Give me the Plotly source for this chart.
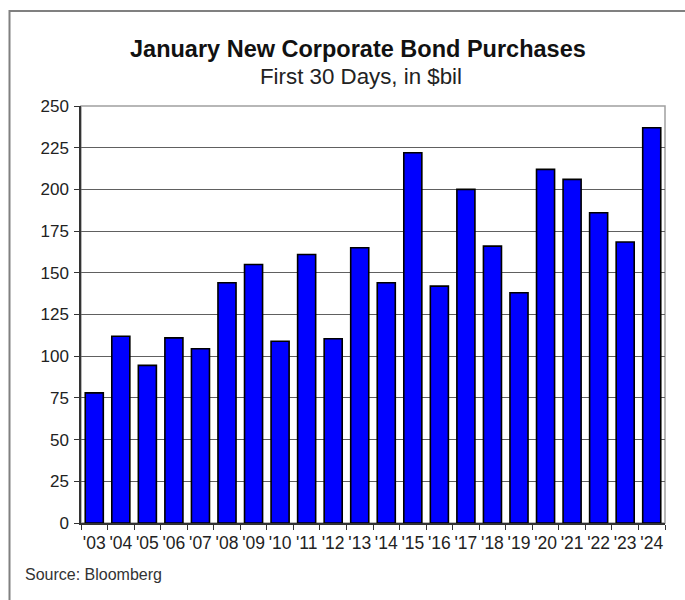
import plotly.graph_objects as go

years = ["'03", "'04", "'05", "'06", "'07", "'08", "'09", "'10", "'11", "'12", "'13",
         "'14", "'15", "'16", "'17", "'18", "'19", "'20", "'21", "'22", "'23", "'24"]
purchases = [78, 112, 94.5, 111, 104.5, 144, 155, 109, 161, 110.5, 165,
             144, 222, 142, 200, 166, 138, 212, 206, 186, 168.5, 237]
y_ticks = [0, 25, 50, 75, 100, 125, 150, 175, 200, 225, 250]

title_text = "January New Corporate Bond Purchases"
subtitle_text = "First 30 Days, in $bil"
source_text = "Source: Bloomberg"

W, H = 685, 600
L, R, T, B = 81, 665, 106, 523  # plot area in px


def px_x(x):
    return (x - L) / (R - L)


def px_y(y):
    return (B - y) / (B - T)


FONT = "Liberation Sans, Arial, sans-serif"

fig = go.Figure()
fig.add_trace(go.Bar(
    x=years, y=purchases,
    marker=dict(color="#0000FF", line=dict(color="#000000", width=1.6)),
))

fig.update_layout(
    width=W, height=H,
    margin=dict(l=L, r=W - R, t=T, b=H - B, pad=0),
    paper_bgcolor="white", plot_bgcolor="white",
    bargap=0.32,
    showlegend=False,
    font=dict(family=FONT, color="#222"),
    xaxis=dict(
        type="category", showgrid=False, showline=True, linecolor="#333", linewidth=1.5,
        ticks="outside", tickson="boundaries", ticklen=5, tickcolor="#333", tickwidth=1,
        tickangle=0,
        tickfont=dict(size=17.5, family=FONT, color="#222"), ticklabelstandoff=3,
    ),
    yaxis=dict(
        range=[0, 250], tickvals=y_ticks, showgrid=True, gridcolor="#606060", gridwidth=1,
        showline=True, linecolor="#333", linewidth=1.5, zeroline=False,
        ticks="outside", ticklen=5, tickcolor="#333", tickwidth=1,
        tickfont=dict(size=17, family=FONT, color="#222"), ticklabelstandoff=2,
    ),
    shapes=[
        dict(type="rect", xref="paper", yref="paper", x0=0, x1=1, y0=0, y1=1,
             line=dict(color="#a0a0a0", width=1.5), layer="below"),
        dict(type="rect", xref="paper", yref="paper",
             x0=px_x(9.5), x1=px_x(700), y0=px_y(620), y1=px_y(11),
             line=dict(color="#808080", width=2), layer="below"),
    ],
    annotations=[
        dict(text="<b>" + title_text + "</b>", xref="paper", yref="paper",
             x=px_x(358), y=px_y(49.5), xanchor="center", yanchor="middle",
             showarrow=False, font=dict(size=23.5, family=FONT, color="#111")),
        dict(text=subtitle_text, xref="paper", yref="paper",
             x=px_x(361), y=px_y(76), xanchor="center", yanchor="middle",
             showarrow=False, font=dict(size=22.3, family=FONT, color="#222")),
        dict(text=source_text, xref="paper", yref="paper",
             x=px_x(23), y=px_y(574), xanchor="left", yanchor="middle",
             showarrow=False, font=dict(size=16, family=FONT, color="#333")),
    ],
)

fig.write_html("out.html", config={"displayModeBar": False},
               post_script="document.body.style.margin='0';")
